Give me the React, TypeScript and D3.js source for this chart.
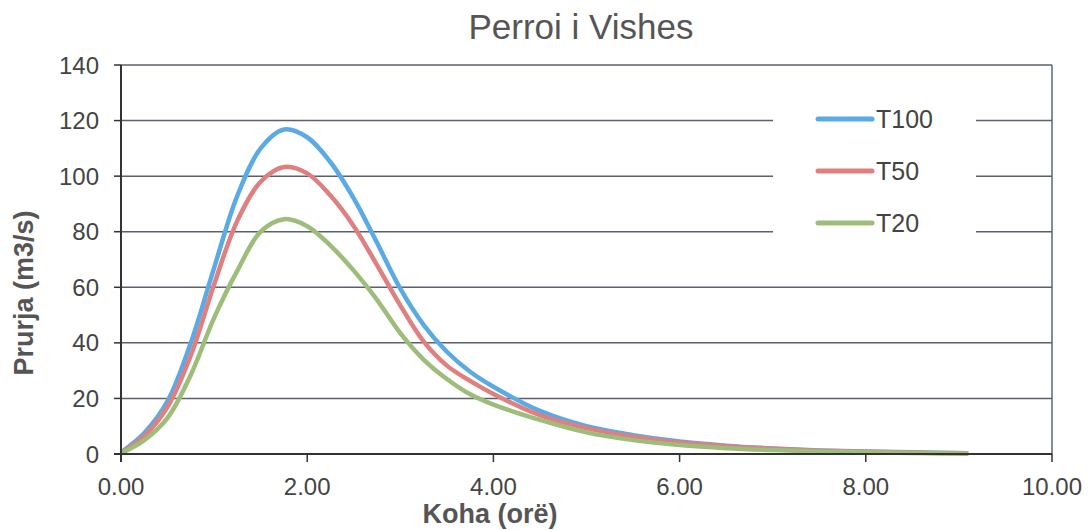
import * as d3 from "d3";

const hours = [0, 0.25, 0.5, 0.75, 1.0, 1.25, 1.5, 1.75, 2.0, 2.25, 2.5, 2.75, 3.0, 3.25, 3.5, 3.75, 4.0, 4.5, 5.0, 5.5, 6.0, 6.5, 7.0, 7.5, 8.0, 8.5, 9.1];
const t100 = [0.5, 7.5, 19, 40, 67, 93, 110, 116.8, 114, 105, 92, 76, 59.5, 46.5, 36.8, 29.6, 24.2, 15.5, 10, 6.8, 4.5, 3, 2, 1.3, 0.9, 0.6, 0.3];
const t50 = [0.4, 6.5, 17, 35.5, 61, 84, 98, 103.3, 101, 93, 82, 68, 53.5, 40.5, 31.8, 26.3, 21.6, 14, 9.3, 6.2, 4.1, 2.8, 1.9, 1.2, 0.8, 0.5, 0.3];
const t20 = [0.3, 5, 13, 28.5, 49, 66, 80, 84.5, 82, 75, 66, 55.5, 43.5, 34, 27, 21.5, 17.8, 12.3, 7.8, 5, 3.2, 2.1, 1.4, 0.9, 0.6, 0.4, 0.2];

const seriesNames = ["T100", "T50", "T20"];
const seriesColors = ["#5aaae6", "#e07f80", "#9dbd7a"];
const yTicks = [0, 20, 40, 60, 80, 100, 120, 140];
const xTicks = [0, 2, 4, 6, 8, 10];

const W = 1089;
const H = 530;
const font = "'Liberation Sans', Arial, sans-serif";

export default function App() {
  const x = d3.scaleLinear().domain([0, 10]).range([121, 1052]);
  const y = d3.scaleLinear().domain([0, 140]).range([454, 65]);
  const line = d3
    .line<[number, number]>()
    .x((d) => x(d[0]))
    .y((d) => y(d[1]))
    .curve(d3.curveCatmullRom.alpha(0.5));

  const allSeries = [t100, t50, t20];
  const legendY = [119, 171, 223];

  return (
    <svg
      width={W}
      height={H}
      style={{ position: "absolute", left: 0, top: 0, background: "#fff" }}
      fontFamily={font}
    >
      <text x={581} y={39} textAnchor="middle" fontSize={35} fill="#555">
        Perroi i Vishes
      </text>

      {/* grid */}
      {yTicks.slice(1).map((t) => (
        <line key={t} x1={x(0)} x2={x(10)} y1={y(t)} y2={y(t)} stroke="#5b5f6e" strokeWidth={1.5} />
      ))}
      <line x1={x(10)} x2={x(10)} y1={y(140)} y2={y(0)} stroke="#5b6478" strokeWidth={1.5} />

      {/* legend */}
      <rect x={773} y={95} width={203} height={152} fill="#fff" />
      {seriesNames.map((n, i) => (
        <g key={n}>
          <line x1={818} x2={872} y1={legendY[i]} y2={legendY[i]} stroke={seriesColors[i]} strokeWidth={5} strokeLinecap="round" />
          <text x={876} y={legendY[i]} dy="0.36em" fontSize={25} fill="#444">
            {n}
          </text>
        </g>
      ))}

      {/* lines */}
      {allSeries.map((s, i) => (
        <path
          key={seriesNames[i]}
          d={line(hours.map((h, j) => [h, s[j]] as [number, number])) ?? ""}
          fill="none"
          stroke={seriesColors[i]}
          strokeWidth={4.5}
          strokeLinejoin="round"
        />
      ))}

      {/* axes */}
      <line x1={x(0)} x2={x(0)} y1={y(140)} y2={y(0) + 8} stroke="#333" strokeWidth={2} />
      <line x1={x(0) - 7} x2={x(10)} y1={y(0)} y2={y(0)} stroke="#333" strokeWidth={2} />
      {yTicks.map((t) => (
        <g key={t}>
          <line x1={x(0) - 7} x2={x(0)} y1={y(t)} y2={y(t)} stroke="#333" strokeWidth={1.5} />
          <text x={99} y={y(t)} dy="0.36em" textAnchor="end" fontSize={24} fill="#444">
            {t}
          </text>
        </g>
      ))}
      {xTicks.map((t) => (
        <g key={t}>
          <line x1={x(t)} x2={x(t)} y1={y(0)} y2={y(0) + 8} stroke="#333" strokeWidth={1.5} />
          <text x={x(t)} y={495} textAnchor="middle" fontSize={24} fill="#444">
            {t.toFixed(2)}
          </text>
        </g>
      ))}

      <text x={490} y={523} textAnchor="middle" fontSize={27} fontWeight="bold" fill="#555">
        Koha (orë)
      </text>
      <text
        transform={`translate(33,${293}) rotate(-90)`}
        textAnchor="middle"
        fontSize={27}
        fontWeight="bold"
        fill="#555"
      >
        Prurja (m3/s)
      </text>
    </svg>
  );
}
